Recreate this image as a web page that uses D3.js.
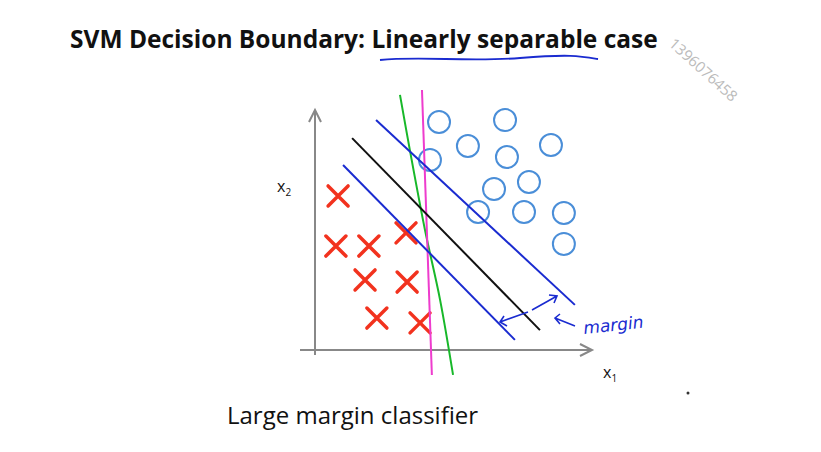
<!DOCTYPE html>
<html><head><meta charset="utf-8">
<script src="https://cdn.jsdelivr.net/npm/d3@7"></script>
<style>body{margin:0;background:#fff}</style>
</head><body><div id="chart"></div>
<script>
// data
const crosses = [[0.84,6.42],[0.76,4.33],[1.96,4.33],[3.31,4.88],[1.82,2.92],[3.35,2.83],[2.25,1.33],[3.82,1.13]];
const circles = [[4.51,9.5],[6.91,9.58],[4.18,7.92],[5.56,8.5],[6.98,8.04],[8.58,8.54],[7.78,7.0],[6.51,6.71],[5.93,5.75],[7.6,5.75],[9.05,5.71],[9.05,4.42]];
const boundary = [[1.35,8.83],[8.18,0.83]];
const marginUpper = [[2.22,9.58],[9.45,1.88]];
const marginLower = [[1.02,7.71],[7.27,0.42]];
const greenLine = [[3.09,10.63],[3.45,8.33],[4.0,5.0],[4.55,2.08],[5.02,-1.04]];
const pinkLine = [[3.89,10.83],[4.25,-1.04]];

const width = 821, height = 452;
const svg = d3.select("#chart").append("svg").attr("width", width).attr("height", height);

const x = d3.scaleLinear().domain([0, 10]).range([315, 590]);
const y = d3.scaleLinear().domain([0, 10]).range([350, 110]);
const line = d3.line().x(d => x(d[0])).y(d => y(d[1]));
const curve = d3.line().x(d => x(d[0])).y(d => y(d[1])).curve(d3.curveCatmullRom);

// title
const title = svg.append("text").attr("x", 70).attr("y", 48)
  .attr("font-family", "Open Sans, sans-serif").attr("font-size", 24.5).attr("font-weight", "bold").attr("fill", "#111");
title.append("tspan").text("SVM Decision Boundary: ");
title.append("tspan").text("Linearly separable");
title.append("tspan").text(" case");
svg.append("path").attr("d", "M380,60 C420,56 470,62 520,58 S580,56 598,59")
  .attr("fill", "none").attr("stroke", "#1a2bd0").attr("stroke-width", 1.8);

svg.append("text").attr("transform", "translate(668,45) rotate(42)")
  .attr("font-family", "Open Sans, sans-serif").attr("font-size", 15).attr("fill", "#bbb").text("1396076458");

// axes
const axisCol = "#888";
svg.append("line").attr("x1", x(0)).attr("x2", x(0)).attr("y1", 355).attr("y2", 112).attr("stroke", axisCol).attr("stroke-width", 2);
svg.append("path").attr("d", `M${x(0)-6},122 L${x(0)},110 L${x(0)+6},122`).attr("fill", "none").attr("stroke", axisCol).attr("stroke-width", 2);
svg.append("line").attr("x1", 300).attr("x2", 590).attr("y1", y(0)).attr("y2", y(0)).attr("stroke", axisCol).attr("stroke-width", 2);
svg.append("path").attr("d", `M580,${y(0)-6} L592,${y(0)} L580,${y(0)+6}`).attr("fill", "none").attr("stroke", axisCol).attr("stroke-width", 2);

const lab = (t, sub, px, py) => {
  const tx = svg.append("text").attr("x", px).attr("y", py).attr("font-family", "Open Sans, sans-serif").attr("font-size", 16).attr("fill", "#111");
  tx.append("tspan").text(t);
  tx.append("tspan").attr("font-size", 10).attr("dy", 4).text(sub);
};
lab("x", "2", 277, 192);
lab("x", "1", 603, 378);

// points
svg.selectAll("g.cross").data(crosses).join("g").attr("class", "cross")
  .attr("transform", d => `translate(${x(d[0])},${y(d[1])})`)
  .each(function () {
    d3.select(this).append("path").attr("d", "M-10,-10L10,10M10,-10L-10,10")
      .attr("stroke", "#f2321e").attr("stroke-width", 3.5).attr("stroke-linecap", "round");
  });
svg.selectAll("circle.o").data(circles).join("circle").attr("class", "o")
  .attr("cx", d => x(d[0])).attr("cy", d => y(d[1])).attr("r", 11)
  .attr("fill", "none").attr("stroke", "#4a8ed8").attr("stroke-width", 2);

// lines
svg.append("path").attr("d", curve(greenLine)).attr("fill", "none").attr("stroke", "#18b82a").attr("stroke-width", 2);
svg.append("path").attr("d", line(pinkLine)).attr("fill", "none").attr("stroke", "#ee3ccd").attr("stroke-width", 2);
svg.append("path").attr("d", line(boundary)).attr("fill", "none").attr("stroke", "#111").attr("stroke-width", 2);
[marginUpper, marginLower].forEach(m =>
  svg.append("path").attr("d", line(m)).attr("fill", "none").attr("stroke", "#1a2bd0").attr("stroke-width", 2));

// margin arrows + label
const blue = "#1a2bd0";
svg.append("path").attr("d", "M500,322 L528,312 M504,316 L500,322 L507,326").attr("fill", "none").attr("stroke", blue).attr("stroke-width", 1.6);
svg.append("path").attr("d", "M532,310 L557,296 M549,295 L557,296 L554,303").attr("fill", "none").attr("stroke", blue).attr("stroke-width", 1.6);
svg.append("path").attr("d", "M575,326 L555,318 M560,314 L555,318 L560,324").attr("fill", "none").attr("stroke", blue).attr("stroke-width", 1.6);
svg.append("text").attr("transform", "translate(584,334) rotate(-6)").attr("font-family", "DejaVu Sans, sans-serif")
  .attr("font-style", "italic").attr("font-size", 17).attr("fill", blue).text("margin");

svg.append("text").attr("x", 227).attr("y", 424).attr("font-family", "Open Sans, sans-serif").attr("font-size", 24).attr("fill", "#111").text("Large margin classifier");
svg.append("circle").attr("cx", 688).attr("cy", 393).attr("r", 1.5).attr("fill", "#333");
</script></body></html>
